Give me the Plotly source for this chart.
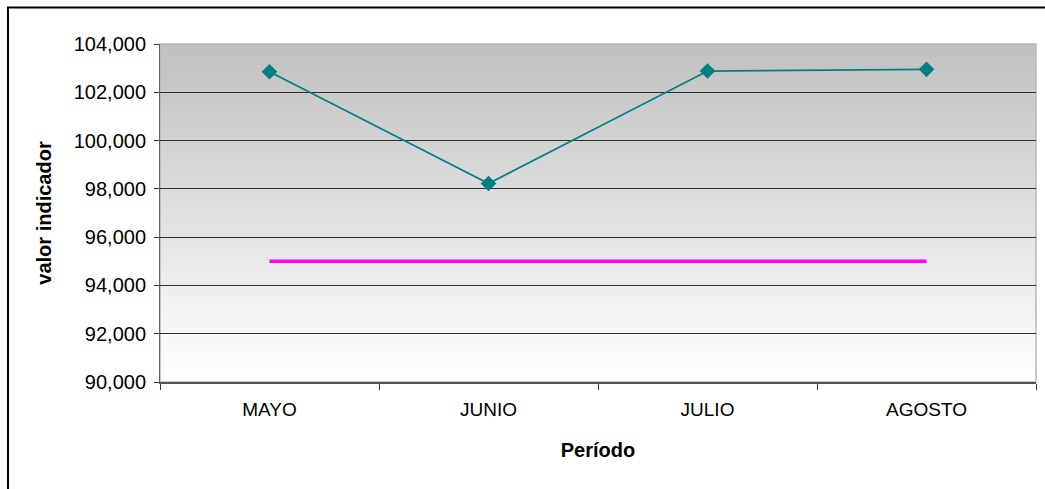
import plotly.graph_objects as go

# Indicator values per period
periodos = ["MAYO", "JUNIO", "JULIO", "AGOSTO"]
valor_indicador = [102850, 98220, 102880, 102950]
meta = [95000, 95000, 95000, 95000]

y_ticks = [90000, 92000, 94000, 96000, 98000, 100000, 102000, 104000]

FONT = "Liberation Sans, Arial, sans-serif"

W, H = 1045, 489
M_L, M_R, M_T, M_B = 160, 9, 44, 107
PW = W - M_L - M_R
PH = H - M_T - M_B

fig = go.Figure()

fig.add_trace(go.Scatter(
    x=periodos, y=meta, mode="lines",
    line=dict(color="#ff00ff", width=3.5),
    hoverinfo="skip", showlegend=False,
))
fig.add_trace(go.Scatter(
    x=periodos, y=valor_indicador, mode="lines+markers",
    line=dict(color="#008080", width=1.8),
    marker=dict(symbol="diamond", size=12, color="#008080"),
    showlegend=False,
))

shapes = []
# vertical gradient behind the plot area: white at the bottom, gray at the top
n = 120
for i in range(n):
    t = i / (n - 1)
    g = round(255 - (255 - 192) * t)
    shapes.append(dict(
        type="rect", xref="paper", yref="paper", layer="below",
        x0=0, x1=1, y0=i / n, y1=min(1, (i + 1.6) / n),
        line=dict(width=0), fillcolor=f"rgb({g},{g},{g})",
    ))
# light frame of the plot area
shapes.append(dict(
    type="rect", xref="paper", yref="paper", layer="below",
    x0=0, x1=1, y0=0, y1=1,
    line=dict(color="#b8b8b8", width=1.5), fillcolor="rgba(0,0,0,0)",
))
# outer chart frame
shapes.append(dict(
    type="rect", xref="paper", yref="paper", layer="above",
    x0=(8 - M_L) / PW, x1=(W + 10 - M_L) / PW,
    y0=(H - M_B - (H + 10)) / PH, y1=(H - M_B - 7.5) / PH,
    line=dict(color="#000000", width=2), fillcolor="rgba(0,0,0,0)",
))

fig.update_layout(
    width=W, height=H,
    margin=dict(l=M_L, r=M_R, t=M_T, b=M_B),
    paper_bgcolor="#ffffff",
    plot_bgcolor="rgba(0,0,0,0)",
    font=dict(family=FONT, size=20, color="#000000"),
    shapes=shapes,
    xaxis=dict(
        type="category", range=[-0.5, 3.5],
        tickson="boundaries", ticks="outside", ticklen=6,
        tickcolor="#333333", tickwidth=1,
        showgrid=False, zeroline=False,
        showline=True, linecolor="#555555", linewidth=1.5,
        tickfont=dict(family=FONT, size=19),
        ticklabelstandoff=9,
        title=dict(text="<b>Período</b>", font=dict(family=FONT, size=20), standoff=24),
    ),
    yaxis=dict(
        range=[90000, 104000], tickvals=y_ticks, tickformat=",d",
        ticks="outside", ticklen=5, tickcolor="#333333", tickwidth=1,
        showgrid=True, gridcolor="#303030", gridwidth=1,
        zeroline=False,
        showline=True, linecolor="#666666", linewidth=1,
        tickfont=dict(family=FONT, size=20),
        ticklabelstandoff=4,
        title=dict(text="<b>valor indicador</b>", font=dict(family=FONT, size=20), standoff=16),
    ),
)

fig.write_html("out.html")
